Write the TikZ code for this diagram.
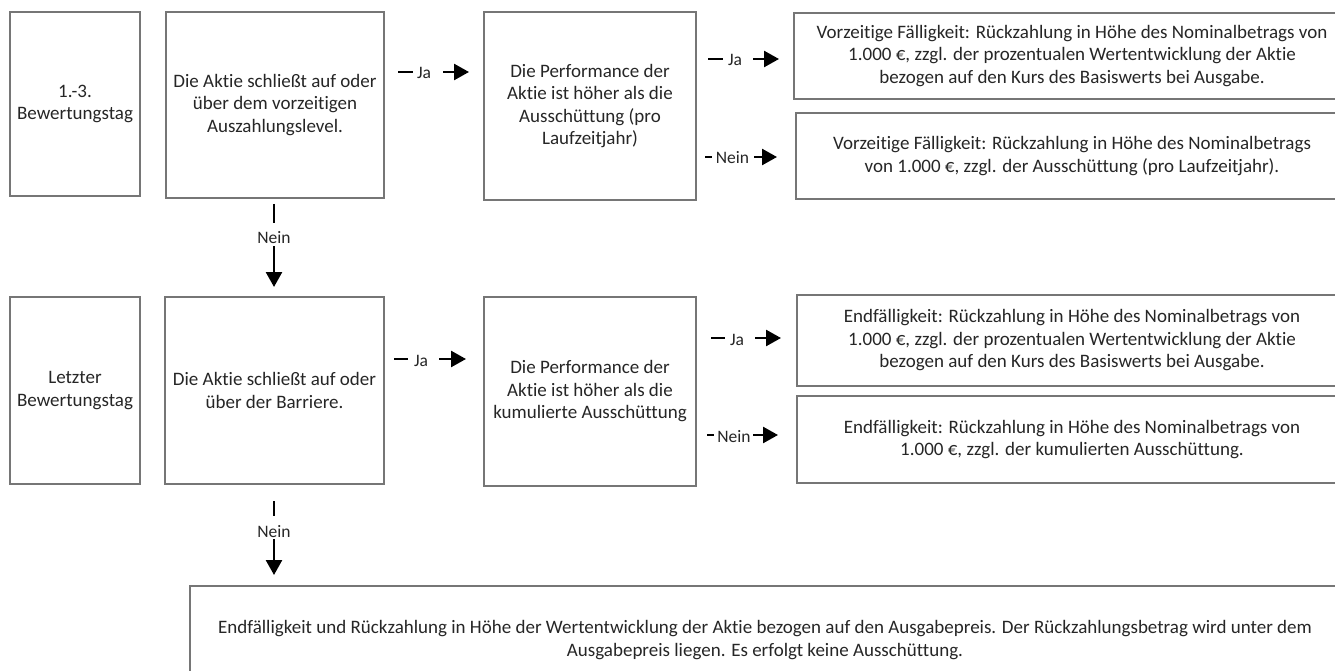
\documentclass[tikz,border=0pt]{standalone}
\usepackage{fontspec}
\setmainfont{Carlito}[Ligatures=NoCommon]
\usetikzlibrary{arrows.meta}
\definecolor{boxgrey}{HTML}{767676}
\definecolor{textgrey}{HTML}{262626}
\begin{document}
\begin{tikzpicture}[x=1pt,y=-1pt,
  box/.style={draw=boxgrey, line width=1.6pt, align=center, inner sep=0pt,
    font=\fontsize{19}{22.5}\selectfont, text=textgrey},
  seg/.style={line width=2.6pt, draw=black},
  arr/.style={line width=2.6pt, draw=black, -{Triangle[length=15pt,width=16pt]}},
  lbl/.style={font=\fontsize{17.5}{19}\selectfont, text=textgrey, inner sep=0pt, anchor=base}]
\useasboundingbox (0,0) rectangle (1335,671);
\clip (0,0) rectangle (1335,671);
\fill[white] (0,0) rectangle (1335,671);

% row 1
\node[box, minimum width=130pt, minimum height=184pt] (A1) at (75,104) {1.-3.\\Bewertungstag};
\node[box, minimum width=218pt, minimum height=186pt] (B1) at (275,105) {Die Aktie schließt auf oder\\über dem vorzeitigen\\Auszahlungslevel.};
\node[box, minimum width=212pt, minimum height=188pt] (C1) at (590,106) {Die Performance der\\Aktie ist höher als die\\Ausschüttung (pro\\Laufzeitjahr)};
\node[box, minimum width=556pt, minimum height=86pt] (D1) at (1072,56) {Vorzeitige Fälligkeit: Rückzahlung in Höhe des Nominalbetrags von\\1.000~€, zzgl. der prozentualen Wertentwicklung der Aktie\\bezogen auf den Kurs des Basiswerts bei Ausgabe.};
\node[box, minimum width=552pt, minimum height=86pt] (E1) at (1072,156) {Vorzeitige Fälligkeit: Rückzahlung in Höhe des Nominalbetrags\\von 1.000~€, zzgl. der Ausschüttung (pro Laufzeitjahr).};

% row 2
\node[box, minimum width=130pt, minimum height=187pt] (A2) at (75,390.5) {Letzter\\Bewertungstag};
\node[box, minimum width=219pt, minimum height=187pt] (B2) at (274.5,390.5) {Die Aktie schließt auf oder\\über der Barriere.};
\node[box, minimum width=212pt, minimum height=189pt] (C2) at (590,391.5) {Die Performance der\\Aktie ist höher als die\\kumulierte Ausschüttung};
\node[box, minimum width=550pt, minimum height=91pt] (D2) at (1072,340.5) {Endfälligkeit: Rückzahlung in Höhe des Nominalbetrags von\\1.000~€, zzgl. der prozentualen Wertentwicklung der Aktie\\bezogen auf den Kurs des Basiswerts bei Ausgabe.};
\node[box, minimum width=550pt, minimum height=87pt] (E2) at (1072,439.5) {Endfälligkeit: Rückzahlung in Höhe des Nominalbetrags von\\1.000~€, zzgl. der kumulierten Ausschüttung.};

% bottom
\node[box, minimum width=1150pt, minimum height=108pt] (F) at (765,640) {Endfälligkeit und Rückzahlung in Höhe der Wertentwicklung der Aktie bezogen auf den Ausgabepreis. Der Rückzahlungsbetrag wird unter dem\\Ausgabepreis liegen. Es erfolgt keine Ausschüttung.};

% connector B1 -> C1 (Ja)
\coordinate (b1s) at (398,72); \coordinate (b1d) at (413,72);
\coordinate (b1a) at (443,72); \coordinate (b1e) at (469,72);
\draw[seg] (b1s) -- (b1d);
\node[lbl] (lb1) at (424,79) {Ja};
\draw[arr] (b1a) -- (b1e);

% connector C1 -> D1 (Ja)
\coordinate (c1s) at (708,59); \coordinate (c1d) at (723,59);
\coordinate (c1a) at (753,59); \coordinate (c1e) at (779,59);
\draw[seg] (c1s) -- (c1d);
\node[lbl] (lc1) at (735,66) {Ja};
\draw[arr] (c1a) -- (c1e);

% connector C1 -> E1 (Nein)
\coordinate (n1s) at (705,157); \coordinate (n1d) at (712,157);
\coordinate (n1a) at (754,157); \coordinate (n1e) at (777,157);
\draw[seg] (n1s) -- (n1d);
\node[lbl] (ln1) at (732.5,164) {Nein};
\draw[arr] (n1a) -- (n1e);

% connector B1 -> B2 (Nein)
\coordinate (v1s) at (274,204); \coordinate (v1d) at (274,223);
\coordinate (v1a) at (274,246); \coordinate (v1e) at (274,287);
\draw[seg] (v1s) -- (v1d);
\node[lbl] (lv1) at (274,243) {Nein};
\draw[arr] (v1a) -- (v1e);

% connector B2 -> C2 (Ja)
\coordinate (b2s) at (394,359); \coordinate (b2d) at (408,359);
\coordinate (b2a) at (439,359); \coordinate (b2e) at (466,359);
\draw[seg] (b2s) -- (b2d);
\node[lbl] (lb2) at (421,366) {Ja};
\draw[arr] (b2a) -- (b2e);

% connector C2 -> D2 (Ja)
\coordinate (c2s) at (711,338); \coordinate (c2d) at (725,338);
\coordinate (c2a) at (755,338); \coordinate (c2e) at (781,338);
\draw[seg] (c2s) -- (c2d);
\node[lbl] (lc2) at (737,345) {Ja};
\draw[arr] (c2a) -- (c2e);

% connector C2 -> E2 (Nein)
\coordinate (n2s) at (707,435); \coordinate (n2d) at (714,435);
\coordinate (n2a) at (753,435); \coordinate (n2e) at (778,435);
\draw[seg] (n2s) -- (n2d);
\node[lbl] (ln2) at (734,442) {Nein};
\draw[arr] (n2a) -- (n2e);

% connector B2 -> F (Nein)
\coordinate (v2s) at (274,501); \coordinate (v2d) at (274,516);
\coordinate (v2a) at (274,539); \coordinate (v2e) at (274,575);
\draw[seg] (v2s) -- (v2d);
\node[lbl] (lv2) at (274,537) {Nein};
\draw[arr] (v2a) -- (v2e);
\end{tikzpicture}
\end{document}
